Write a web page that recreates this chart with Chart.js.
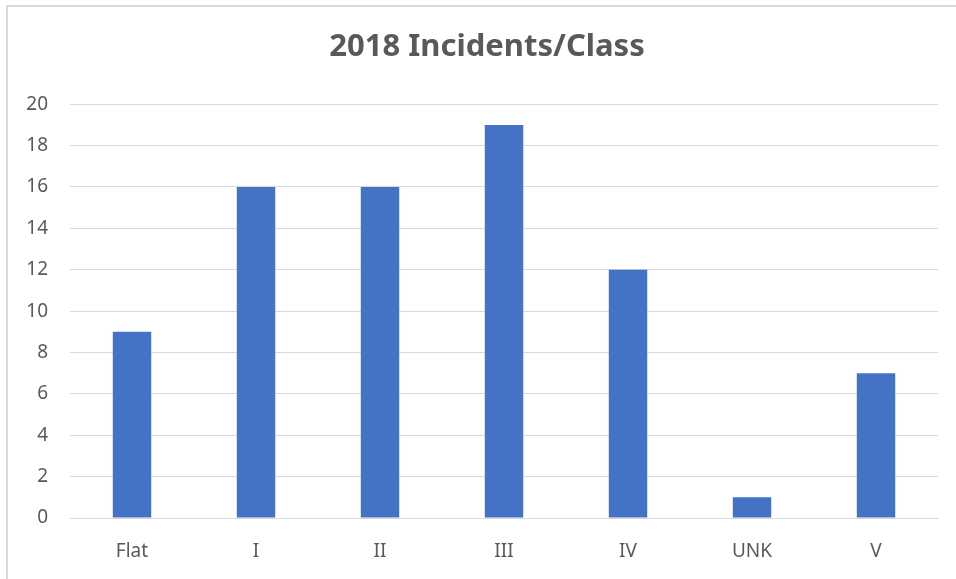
<!DOCTYPE html>
<html>
<head>
<meta charset="utf-8">
<script src="https://cdn.jsdelivr.net/npm/chart.js@4/dist/chart.umd.min.js"></script>
<style>
  html, body { margin: 0; padding: 0; background: #fff; }
  #wrap { position: relative; width: 956px; height: 579px; overflow: hidden; }
  #frame { position: absolute; left: 6px; top: 5px; width: 980px; height: 600px;
           border-left: 2px solid #D9D9D9; border-top: 2px solid #D9D9D9; }
  canvas { position: absolute; left: 0; top: 0; }
</style>
</head>
<body>
<div id="wrap">
  <div id="frame"></div>
  <canvas id="myChart" width="956" height="579"></canvas>
</div>
<script>
// chart data
const classes = ['Flat', 'I', 'II', 'III', 'IV', 'UNK', 'V'];
const incidents = [9, 16, 16, 19, 12, 1, 7];
const yTicks = [0, 2, 4, 6, 8, 10, 12, 14, 16, 18, 20];

const textColor = '#595959';
const gridColor = '#D9D9D9';

// the original title sits a bit right of the canvas centre, so narrow its box
const shiftTitle = {
    id: 'shiftTitle',
    afterLayout(chart) {
        if (chart.titleBlock) {
            chart.titleBlock.left = 36;
            chart.titleBlock.right = 938;
        }
    }
};

const ctx = document.getElementById('myChart').getContext('2d');
const myChart = new Chart(ctx, {
    type: 'bar',
    data: {
        labels: classes,
        datasets: [{
            label: 'Incidents',
            data: incidents,
            backgroundColor: '#4472C4',
            barPercentage: 0.31,
            categoryPercentage: 1
        }]
    },
    options: {
        responsive: false,
        animation: false,
        layout: { padding: { left: 0, right: 18, top: 0, bottom: 0 } },
        plugins: {
            legend: { display: false },
            tooltip: { enabled: false },
            title: {
                display: true,
                text: '2018 Incidents/Class',
                color: textColor,
                font: { family: 'Noto Sans', size: 31, weight: 'bold', lineHeight: 1.2 },
                padding: { top: 29, bottom: 38 }
            }
        },
        scales: {
            x: {
                grid: { display: false },
                border: { display: true, color: gridColor, width: 1 },
                ticks: { color: textColor, font: { family: 'Noto Sans', size: 19 }, padding: 14 },
                afterFit: (scale) => { scale.height = 61; }
            },
            y: {
                min: 0,
                max: 20,
                afterBuildTicks: (scale) => { scale.ticks = yTicks.map(v => ({ value: v })); },
                grid: { color: gridColor, drawTicks: false },
                border: { display: false },
                ticks: { color: textColor, font: { family: 'Noto Sans', size: 19 }, padding: 22 },
                afterFit: (scale) => { scale.width = 70; }
            }
        }
    },
    plugins: [shiftTitle]
});
</script>
</body>
</html>
